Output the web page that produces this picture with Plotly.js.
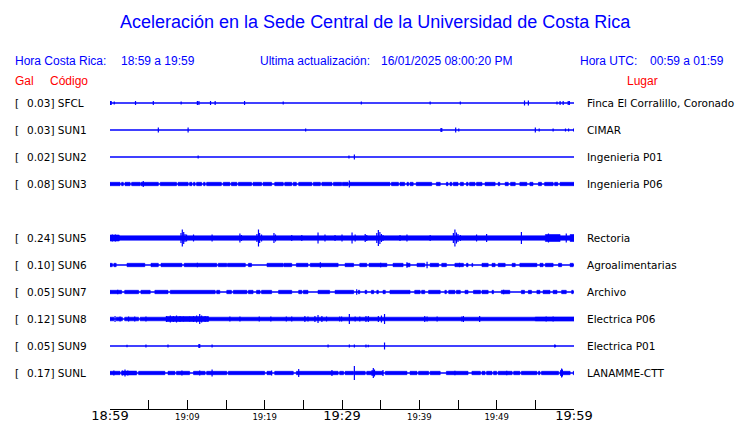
<!DOCTYPE html>
<html>
<head>
<meta charset="utf-8">
<script src="https://cdn.plot.ly/plotly-3.0.1.min.js"></script>
<style>html,body{margin:0;padding:0;background:#fff;}#chart{width:740px;height:423px;}</style>
</head>
<body>
<div id="chart"></div>
<script>
// ---------------- DATA ----------------
// Station codes (SUN4 has no data -> empty row)
const codes = ['SFCL','SUN1','SUN2','SUN3','SUN4','SUN5','SUN6','SUN7','SUN8','SUN9','SUNL'];
const peakGal = [0.03, 0.03, 0.02, 0.08, null, 0.24, 0.10, 0.05, 0.12, 0.05, 0.17];
const places = ['Finca El Corralillo, Coronado','CIMAR','Ingenieria P01','Ingenieria P06', null,
                'Rectoria','Agroalimentarias','Archivo','Electrica P06','Electrica P01','LANAMME-CTT'];
// time axis: minutes after 18:59 local
const tickMinutes = [0,5,10,15,20,25,30,35,40,45,50,55,60];
const tickLabels  = ['18:59','','19:09','','19:19','','19:29','','19:39','','19:49','','19:59'];
const majorTicks  = ['18:59','19:29','19:59'];

// Envelope of continuous shaking: [start min, end min, half amplitude]
const sfclBand = [];
const sun1Band = [];
const sun2Band = [];
const sun3Band = [[0,1.3,1.7],[1.5,1.72,1.7],[1.94,2.6,1.7],[2.8,3.9,1.7],[4.0,6.25,1.7],[6.5,8.6,1.7],[8.8,10.1,1.7],[10.3,10.6,1.7],[10.8,11.0,1.7],[11.2,11.85,1.7],[12.1,12.3,1.7],[12.5,14.4,1.7],[14.65,15.5,1.7],[15.7,16.4,1.7],[16.6,18.3,1.7],[18.5,19.6,1.7],[19.8,20.9,1.7],[21.3,22.4,1.7],[22.6,23.5,1.7],[23.7,24.1,1.7],[24.4,26.1,1.7],[26.3,27.2,1.7],[27.4,28.7,1.7],[28.9,29.96,1.7],[30.05,30.8,1.7],[31.0,36.2,1.7],[36.4,37.3,1.7],[37.5,38.1,1.7],[38.4,38.6,1.7],[38.8,39.2,1.7],[39.6,41.6,1.7],[42.2,42.7,1.7],[43.5,43.7,1.7],[43.97,44.2,1.7],[44.4,45.0,1.7],[45.3,45.7,1.7],[46.1,46.3,1.7],[46.5,47.2,1.7],[47.4,48.1,1.7],[48.5,49.8,1.7],[50.2,50.4,1.7],[51.1,51.5,1.7],[51.8,52.4,1.7],[53.0,53.9,1.7],[54.3,54.7,1.7],[55.4,55.8,1.7],[56.2,57.3,1.7],[57.5,57.9,1.7],[58.2,60,1.7]];
const sun4Band = [];
const sun5Band = [[0,1.2,3],[1.2,56.3,2.2],[56.3,58.2,3.5],[58.2,59.5,2.2],[59.5,60,3.5]];
const sun6Band = [[0,0.3,1.7],[0.5,0.8,1.7],[2.2,4.5,1.7],[5.3,6.25,1.7],[6.6,9.3,1.7],[9.6,13.8,1.7],[14.0,15.1,1.7],[15.2,17.5,1.7],[17.9,18.3,1.7],[20.3,22.4,1.7],[22.5,23.5,1.7],[24.1,25.6,1.7],[25.9,29.5,1.7],[30.4,31.5,1.7],[32.3,33.2,1.7],[33.5,35.8,1.7],[36.6,37.9,1.7],[38.4,38.8,1.7],[39.7,40.7,1.7],[41.4,42.5,1.7],[42.9,43.5,1.7],[44.6,45.7,1.7],[46.1,46.3,1.7],[46.8,46.9,1.7],[48.1,48.9,1.7],[49.4,49.8,1.7],[50.2,51.1,1.7],[52.0,52.4,1.7],[53.0,55.2,1.7],[55.6,56.0,1.7],[56.3,57.3,1.7],[58.0,58.4,1.7],[59.5,59.9,1.7]];
const sun7Band = [[0,1.5,1.7],[1.9,3.7,1.7],[4.0,5.2,1.7],[5.8,7.5,1.7],[7.8,13.6,1.7],[13.8,14.2,1.7],[15.1,15.7,1.7],[15.95,17.7,1.7],[17.9,18.5,1.7],[18.95,19.4,1.7],[19.6,20.9,1.7],[21.8,23.5,1.7],[24.4,24.8,1.7],[25.0,25.6,1.7],[26.9,28.4,1.7],[29.1,31.5,1.7],[32.1,32.3,1.7],[32.98,33.2,1.7],[33.8,34.1,1.7],[34.5,34.7,1.7],[35.3,35.6,1.7],[36.2,38.8,1.7],[39.4,40.1,1.7],[40.3,40.7,1.7],[41.2,42.7,1.7],[43.3,43.5,1.7],[43.8,44.6,1.7],[44.8,45.3,1.7],[45.9,46.3,1.7],[47.0,47.9,1.7],[48.1,48.9,1.7],[49.4,49.6,1.7],[50.6,51.7,1.7],[53.2,53.6,1.7],[54.1,54.5,1.7],[55.2,55.6,1.7],[56.0,56.9,1.7],[57.3,57.8,1.7],[58.4,59.0,1.7],[59.7,59.9,1.7]];
const sun8Band = [[0,0.5,1.8],[0.8,1.6,1.8],[1.9,3.7,1.8],[3.9,7.3,1.8],[7.3,12.7,2.5],[12.7,55,1.8],[55,60,2.1]];
const sun9Band = [];
const sunlBand = [[0,1.3,1.7],[1.5,3.45,1.9],[3.7,7.1,1.7],[7.5,8.4,1.7],[8.6,10.3,1.7],[10.8,12.3,1.7],[12.5,15.1,1.7],[15.3,20.0,1.7],[20.3,20.9,1.7],[21.3,23.7,1.7],[24.1,29.5,1.7],[29.7,30.2,1.7],[30.4,31.5,1.7],[31.7,33.0,1.7],[33.2,35.3,1.7],[35.6,38.4,1.7],[38.8,39.7,1.7],[39.9,41.2,1.7],[41.4,42.7,1.7],[43.5,46.3,1.7],[46.8,47.9,1.7],[48.1,48.5,1.7],[48.7,49.4,1.7],[49.6,50.0,1.7],[50.2,52.0,1.7],[52.2,53.0,1.7],[53.2,55.2,1.7],[55.4,55.6,1.7],[55.8,58.0,1.7],[58.2,59.5,1.7],[59.9,60,1.7]];

// Individual peaks: [minute, half amplitude]
const sfclPeaks = [[0.05,2],[0.15,2],[0.55,1.5],[3.3,2],[5.6,2],[9.2,1.5],[11.3,2],[11.5,2],[13.0,2],[13.6,2],[17.4,2],[22.4,1.5],[32.5,1.5],[41.4,1.5],[45.3,1.5],[53.6,2.5],[54.1,2.5],[57.8,1.5],[58.2,2],[58.6,2],[59.25,2],[59.4,2]];
const sun1Peaks = [[6.25,2.5],[10.1,2.5],[25.3,1.5],[42.8,2],[42.9,2],[44.7,2.5],[45.1,1.5],[55.0,2.5],[55.5,1.5],[57.3,1.5],[58.9,1.5],[59.3,1.5],[59.95,1.5]];
const sun2Peaks = [[11.4,1.5],[30.9,1.5],[31.6,2.5]];
const sun3Peaks = [[4.3,3],[30.95,3.5]];
const sun4Peaks = [];
const sun5Peaks = [[0.3,3.5],[0.7,3.5],[9.18,5],[9.35,8.5],[9.53,6],[9.7,4],[9.9,3.5],[10.8,3.5],[13.2,3.5],[16.8,4.5],[17.0,3],[19.0,4],[19.2,8.5],[19.35,5],[19.6,3.5],[21.2,5],[21.4,3.5],[23.5,3],[24.8,3],[26.9,5.5],[27.8,3.5],[29.1,3],[30.0,3.5],[31.3,5.5],[31.7,3.5],[33.0,4],[33.2,3],[34.5,5],[34.7,8],[34.9,6],[35.1,4],[35.3,3],[37.5,3],[38.4,3.5],[41.4,3],[44.4,5],[44.6,8.5],[44.8,5.5],[45.0,4],[45.3,3],[47.4,3.5],[48.7,4],[53.2,6],[56.7,4.5],[59.0,4.5]];
const sun6Peaks = [[11.3,2.2],[27.2,2.8],[38.4,2.8],[41.0,3.2],[35.0,2.2],[45.2,2.2]];
const sun7Peaks = [[31.9,2.7],[1.0,2.2],[50.9,2.2]];
const sun8Peaks = [[0.65,3],[1.3,2.5],[2.4,2.5],[3.2,2.5],[4.65,2.5],[7.3,3],[7.8,3.5],[8.2,3],[8.6,3.5],[9.05,3],[9.5,2.5],[10.3,2.5],[10.8,3],[11.2,3.5],[11.6,5],[11.85,3.5],[12.3,3],[12.7,2.5],[15.5,2.5],[16.8,2.5],[19.3,2.5],[20.8,2.5],[22.8,2.5],[23.5,2.5],[25.2,3],[25.6,2.5],[26.5,3],[26.9,4],[27.4,3],[28.0,2.5],[29.7,2.5],[29.95,2.5],[30.95,5],[31.7,2.5],[32.3,2.5],[33.1,3],[33.4,3],[34.7,3],[35.1,3.5],[35.5,5],[40.7,3],[41.0,2.5],[42.3,2.5],[45.5,2.5],[45.7,3],[47.8,3],[56.4,2.5],[57.3,2.5]];
const sun9Peaks = [[2.2,1.3],[4.65,1.5],[7.5,1.5],[11.5,2],[11.6,2],[13.2,1.5],[28.2,1.5],[30.95,1.5],[31.6,1.5],[33.1,1.5],[33.4,1.2],[35.5,3.5],[57.5,1.5],[57.6,1.2]];
const sunlPeaks = [[0.5,2.5],[1.6,2.5],[1.94,3.5],[2.3,2.5],[9.3,2.5],[11.6,2.5],[13.2,3.5],[20.9,2.5],[24.4,4],[28.7,3],[31.6,7],[33.9,3],[34.05,5],[34.2,3.5],[35.3,3],[44.6,2.3],[51.3,2.3],[58.3,3],[58.4,4.5],[58.5,3.5]];

const bands = [sfclBand,sun1Band,sun2Band,sun3Band,sun4Band,sun5Band,sun6Band,sun7Band,sun8Band,sun9Band,sunlBand];
const peaks = [sfclPeaks,sun1Peaks,sun2Peaks,sun3Peaks,sun4Peaks,sun5Peaks,sun6Peaks,sun7Peaks,sun8Peaks,sun9Peaks,sunlPeaks];

// ---------------- DRAWING ----------------
const BLUE = '#0000ff';
const AMP_PER_ROW = 27;             // amplitude units per trace row
const W = 740, H = 423;
const M = {l:110, r:166, t:90, b:14};
const plotW = W - M.l - M.r, plotH = H - M.t - M.b;
const px = x => (x - M.l) / plotW;          // pixel x -> paper
const py = y => (H - M.b - y) / plotH;      // pixel y -> paper
const rowTop = -13/AMP_PER_ROW;             // rows: row i centred at i
const rowBottom = rowTop + plotH/AMP_PER_ROW;

const traces = [];
const annotations = [];
const LABEL_FONT = {family:'DejaVu Sans', size:10.5, color:'#000'};

codes.forEach((code, i) => {
  if (peakGal[i] === null) return;
  // baseline trace
  traces.push({x:[0,60], y:[i,i], mode:'lines', line:{color:BLUE, width:1.3}, hoverinfo:'skip'});
  // band envelope
  if (bands[i].length) {
    const bx = [], by = [];
    bands[i].forEach(([t0,t1,a]) => {
      const h = a / AMP_PER_ROW;
      bx.push(t0,t1,t1,t0,t0,null);
      by.push(i-h,i-h,i+h,i+h,i-h,null);
    });
    traces.push({x:bx, y:by, mode:'lines', fill:'toself', fillcolor:BLUE,
                 line:{color:BLUE, width:0.6}, hoverinfo:'skip'});
  }
  // individual peaks
  if (peaks[i].length) {
    const sx = [], sy = [];
    peaks[i].forEach(([t,a]) => {
      const h = a / AMP_PER_ROW;
      sx.push(t,t,null); sy.push(i-h,i+h,null);
    });
    traces.push({x:sx, y:sy, mode:'lines', line:{color:BLUE, width:1.2}, hoverinfo:'skip'});
  }
  // labels
  annotations.push({xref:'paper', yref:'y', x:px(13), y:i, xanchor:'left', yanchor:'middle',
                    text:'[', showarrow:false, font:LABEL_FONT});
  annotations.push({xref:'paper', yref:'y', x:px(25), y:i, xanchor:'left', yanchor:'middle',
                    text:peakGal[i].toFixed(2) + '] ' + code, showarrow:false, font:LABEL_FONT});
  annotations.push({xref:'paper', yref:'y', x:px(585), y:i, xanchor:'left', yanchor:'middle',
                    text:places[i], showarrow:false, font:LABEL_FONT});
});

// header texts
const HEAD = 'Liberation Sans';
function head(text, x, y, anchor, size, color) {
  annotations.push({xref:'paper', yref:'paper', x:px(x), y:py(y), xanchor:anchor, yanchor:'middle',
    text:text, showarrow:false, font:{family:HEAD, size:size, color:color}});
}
head('Aceleración en la Sede Central de la Universidad de Costa Rica', 375, 22, 'center', 18, BLUE);
head('Hora Costa Rica:', 13, 61, 'left', 12, BLUE);
head('18:59 a 19:59', 119, 61, 'left', 12, BLUE);
head('Ultima actualización:', 258, 61, 'left', 12, BLUE);
head('16/01/2025 08:00:20 PM', 514, 61, 'right', 12, BLUE);
head('Hora UTC:', 578, 61, 'left', 12, BLUE);
head('00:59 a 01:59', 726, 61, 'right', 12, BLUE);
head('Gal', 13, 81, 'left', 12, '#ff0000');
head('Código', 48, 81, 'left', 12, '#ff0000');
head('Lugar', 625, 81, 'left', 12, '#ff0000');

const tickText = tickLabels.map(t => majorTicks.includes(t)
  ? '<span style="font-size:13px">' + t + '</span>' : t);

const layout = {
  width: W, height: H,
  margin: M,
  paper_bgcolor:'#fff', plot_bgcolor:'#fff',
  showlegend:false,
  xaxis: {range:[0,60], tickmode:'array', tickvals:tickMinutes, ticktext:tickText,
          ticks:'inside', ticklen:9, tickwidth:1, tickcolor:'#000',
          showline:true, linecolor:'#000', linewidth:1, showgrid:false, zeroline:false,
          tickfont:{family:'DejaVu Sans', size:8.5, color:'#000'}, fixedrange:true},
  yaxis: {range:[rowBottom, rowTop], visible:false, showgrid:false, zeroline:false, fixedrange:true},
  annotations: annotations
};

Plotly.newPlot('chart', traces, layout, {staticPlot:true, displayModeBar:false});
</script>
</body>
</html>
